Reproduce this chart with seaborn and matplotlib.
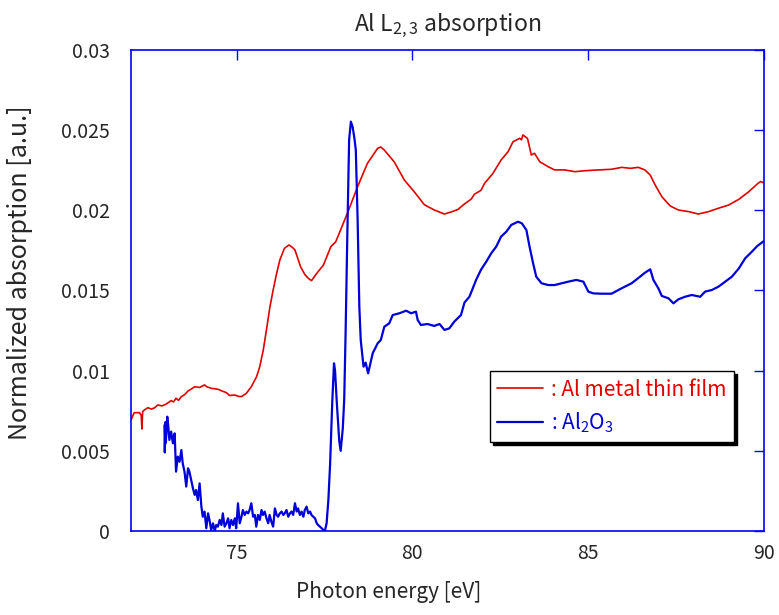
import numpy as np
import pandas as pd
import seaborn as sns
import matplotlib
matplotlib.use("Agg")
import matplotlib.pyplot as plt

# Al metal thin film (red)
metal_eV = [72.00, 72.09, 72.24, 72.29, 72.31, 72.33, 72.38, 72.48, 72.58, 72.67,
            72.76, 72.88, 73.00, 73.14, 73.21, 73.28, 73.35, 73.43, 73.52, 73.62,
            73.71, 73.81, 73.95, 74.09, 74.15, 74.28, 74.47, 74.60, 74.71, 74.80,
            74.95, 75.05, 75.14, 75.28, 75.42, 75.57, 75.66, 75.76, 75.85, 75.95,
            76.04, 76.14, 76.23, 76.36, 76.49, 76.58, 76.66, 76.82, 76.94, 77.04,
            77.13, 77.28, 77.47, 77.68, 77.82, 78.15, 78.44, 78.72, 79.01, 79.10,
            79.20, 79.48, 79.77, 80.05, 80.34, 80.62, 80.91, 81.10, 81.29, 81.48,
            81.67, 81.76, 81.95, 82.05, 82.29, 82.52, 82.72, 82.86, 83.05, 83.10,
            83.14, 83.27, 83.38, 83.47, 83.62, 83.86, 84.04, 84.33, 84.62, 84.90,
            85.28, 85.66, 85.95, 86.20, 86.42, 86.61, 86.76, 86.90, 87.09, 87.33,
            87.56, 87.85, 88.13, 88.42, 88.70, 88.99, 89.28, 89.56, 89.80, 89.90,
            90.00]
metal_abs = [0.00692, 0.00738, 0.00738, 0.00720, 0.00636, 0.00745, 0.00755, 0.00769, 0.00760, 0.00769,
             0.00786, 0.00780, 0.00792, 0.00813, 0.00805, 0.00828, 0.00815, 0.00838, 0.00850, 0.00873,
             0.00885, 0.00900, 0.00895, 0.00911, 0.00900, 0.00890, 0.00884, 0.00872, 0.00863, 0.00845,
             0.00848, 0.00840, 0.00838, 0.00859, 0.00900, 0.00963, 0.01025, 0.01129, 0.01254, 0.01399,
             0.01503, 0.01607, 0.01690, 0.01763, 0.01784, 0.01770, 0.01753, 0.01648, 0.01600, 0.01576,
             0.01561, 0.01607, 0.01659, 0.01773, 0.01804, 0.01981, 0.02147, 0.02293, 0.02387, 0.02395,
             0.02376, 0.02303, 0.02189, 0.02116, 0.02035, 0.02002, 0.01977, 0.01990, 0.02005, 0.02040,
             0.02070, 0.02100, 0.02125, 0.02168, 0.02231, 0.02314, 0.02366, 0.02428, 0.02449, 0.02440,
             0.02470, 0.02449, 0.02345, 0.02356, 0.02303, 0.02272, 0.02252, 0.02252, 0.02241, 0.02247,
             0.02252, 0.02256, 0.02268, 0.02262, 0.02268, 0.02252, 0.02220, 0.02158, 0.02085, 0.02027,
             0.02002, 0.01992, 0.01977, 0.01992, 0.02013, 0.02033, 0.02069, 0.02116, 0.02164, 0.02180,
             0.02170]

# Al2O3 (blue)
oxide_eV = [72.95, 72.96, 72.98, 72.99, 73.03, 73.06, 73.09, 73.14, 73.19, 73.24,
            73.28, 73.33, 73.38, 73.43, 73.47, 73.52, 73.57, 73.62, 73.66, 73.71,
            73.76, 73.81, 73.85, 73.90, 73.95, 74.00, 74.04, 74.09, 74.14, 74.19,
            74.23, 74.28, 74.33, 74.38, 74.42, 74.47, 74.52, 74.57, 74.61, 74.66,
            74.71, 74.76, 74.80, 74.85, 74.90, 74.95, 74.99, 75.04, 75.09, 75.14,
            75.18, 75.23, 75.28, 75.33, 75.37, 75.42, 75.47, 75.52, 75.56, 75.61,
            75.66, 75.71, 75.75, 75.80, 75.85, 75.90, 75.94, 75.99, 76.04, 76.09,
            76.14, 76.18, 76.23, 76.28, 76.33, 76.37, 76.42, 76.47, 76.52, 76.56,
            76.61, 76.66, 76.71, 76.75, 76.80, 76.85, 76.90, 76.94, 76.99, 77.04,
            77.09, 77.13, 77.18, 77.23, 77.28, 77.32, 77.37, 77.42, 77.47, 77.51,
            77.56, 77.61, 77.66, 77.72, 77.77, 77.80, 77.85, 77.92, 77.96, 78.02,
            78.06, 78.10, 78.15, 78.20, 78.25, 78.30, 78.35, 78.39, 78.44, 78.49,
            78.53, 78.61, 78.67, 78.74, 78.87, 79.01, 79.10, 79.20, 79.34, 79.44,
            79.63, 79.82, 79.96, 80.10, 80.15, 80.24, 80.43, 80.62, 80.77, 80.91,
            81.05, 81.19, 81.38, 81.48, 81.62, 81.81, 81.95, 82.10, 82.24, 82.38,
            82.52, 82.67, 82.81, 83.00, 83.11, 83.24, 83.33, 83.43, 83.52, 83.67,
            83.86, 84.04, 84.24, 84.43, 84.66, 84.86, 85.00, 85.14, 85.38, 85.66,
            85.95, 86.23, 86.47, 86.61, 86.76, 86.85, 86.99, 87.09, 87.28, 87.42,
            87.56, 87.75, 87.94, 88.18, 88.32, 88.51, 88.70, 88.89, 89.08, 89.28,
            89.46, 89.65, 89.80, 90.00]
oxide_abs = [0.00660, 0.00490, 0.00680, 0.00550, 0.00713, 0.00651, 0.00568, 0.00620, 0.00547, 0.00609,
             0.00370, 0.00464, 0.00432, 0.00505, 0.00422, 0.00370, 0.00277, 0.00391, 0.00370, 0.00318,
             0.00266, 0.00225, 0.00256, 0.00193, 0.00297, 0.00152, 0.00089, 0.00121, 0.00017, 0.00110,
             0.00069, 0.00006, 0.00048, 0.00000, 0.00037, 0.00027, 0.00069, 0.00037, 0.00110, 0.00027,
             0.00048, 0.00079, 0.00017, 0.00069, 0.00037, 0.00079, 0.00017, 0.00173, 0.00048, 0.00089,
             0.00131, 0.00100, 0.00121, 0.00110, 0.00131, 0.00173, 0.00089, 0.00100, 0.00027, 0.00100,
             0.00069, 0.00131, 0.00100, 0.00121, 0.00079, 0.00048, 0.00100, 0.00058, 0.00027, 0.00141,
             0.00100, 0.00089, 0.00110, 0.00121, 0.00100, 0.00110, 0.00131, 0.00089, 0.00110, 0.00121,
             0.00100, 0.00173, 0.00121, 0.00141, 0.00100, 0.00121, 0.00089, 0.00131, 0.00152, 0.00110,
             0.00121, 0.00100, 0.00089, 0.00079, 0.00048, 0.00037, 0.00027, 0.00017, 0.00006, 0.00000,
             0.00048, 0.00193, 0.00420, 0.00800, 0.01046, 0.01000, 0.00800, 0.00560, 0.00500, 0.00640,
             0.00817, 0.01235, 0.01860, 0.02440, 0.02553, 0.02520, 0.02450, 0.02376, 0.01960, 0.01400,
             0.01191, 0.01025, 0.01050, 0.00983, 0.01108, 0.01170, 0.01191, 0.01274, 0.01295, 0.01347,
             0.01358, 0.01374, 0.01358, 0.01368, 0.01316, 0.01285, 0.01291, 0.01279, 0.01291, 0.01254,
             0.01264, 0.01306, 0.01347, 0.01425, 0.01461, 0.01566, 0.01630, 0.01680, 0.01732, 0.01773,
             0.01836, 0.01867, 0.01909, 0.01929, 0.01919, 0.01877, 0.01773, 0.01670, 0.01586, 0.01545,
             0.01534, 0.01534, 0.01545, 0.01555, 0.01566, 0.01555, 0.01493, 0.01482, 0.01480, 0.01480,
             0.01514, 0.01545, 0.01586, 0.01611, 0.01632, 0.01566, 0.01514, 0.01466, 0.01451, 0.01420,
             0.01445, 0.01461, 0.01472, 0.01461, 0.01493, 0.01503, 0.01524, 0.01555, 0.01586, 0.01638,
             0.01701, 0.01742, 0.01777, 0.01810]

x_ticks = [75, 80, 85, 90]
y_ticks = [0, 0.005, 0.01, 0.015, 0.02, 0.025, 0.03]
y_ticklabels = ["0", "0.005", "0.01", "0.015", "0.02", "0.025", "0.03"]

red = "#e00000"
blue = "#0000d8"
frame = "#0000ff"

sns.set_style("white")
plt.rcParams["font.family"] = ["Noto Sans CJK JP", "DejaVu Sans"]
plt.rcParams["mathtext.fontset"] = "custom"

df_metal = pd.DataFrame({"energy": metal_eV, "absorption": metal_abs})
df_oxide = pd.DataFrame({"energy": oxide_eV, "absorption": oxide_abs})

fig = plt.figure(figsize=(7.79, 6.15), dpi=100)
ax = fig.add_axes([0.1682, 0.1366, 0.8128, 0.7821])

sns.lineplot(data=df_metal, x="energy", y="absorption", ax=ax, color=red,
             linewidth=1.2, sort=False, estimator=None,
             label=": Al metal thin film")
sns.lineplot(data=df_oxide, x="energy", y="absorption", ax=ax, color=blue,
             linewidth=1.6, sort=False, estimator=None,
             label=r": Al$_{\mathregular{2}}$O$_{\mathregular{3}}$")

ax.set_xlim(72, 90)
ax.set_ylim(0, 0.03)
ax.set_xticks(x_ticks)
ax.set_yticks(y_ticks)
ax.set_yticklabels(y_ticklabels)
ax.tick_params(direction="in", length=7, width=1, color=frame, labelsize=14,
               top=True, right=True)
ax.tick_params(axis="y", pad=15)
ax.tick_params(axis="x", pad=9)
for s in ax.spines.values():
    s.set_color(frame)
    s.set_linewidth(1.2)

ax.set_xlabel("Photon energy [eV]", fontsize=15)
ax.xaxis.set_label_coords(0.407, -0.105)
ax.set_ylabel("Normalized absorption [a.u.]", fontsize=18)
ax.yaxis.set_label_coords(-0.155, 0.538)
ax.set_title(r"Al L$_{\mathregular{2,3}}$ absorption", fontsize=16.5, pad=14)

leg = ax.legend(loc="lower left", bbox_to_anchor=(0.567, 0.185), fontsize=15,
                frameon=True, fancybox=False, shadow={"color": "black", "alpha": 1},
                edgecolor="black", framealpha=1, handlelength=2.2,
                handletextpad=0.4, labelcolor="linecolor", borderpad=0.35,
                labelspacing=0.45, borderaxespad=0)
leg.get_frame().set_linewidth(1.0)

fig.savefig("out.png", dpi=100)
